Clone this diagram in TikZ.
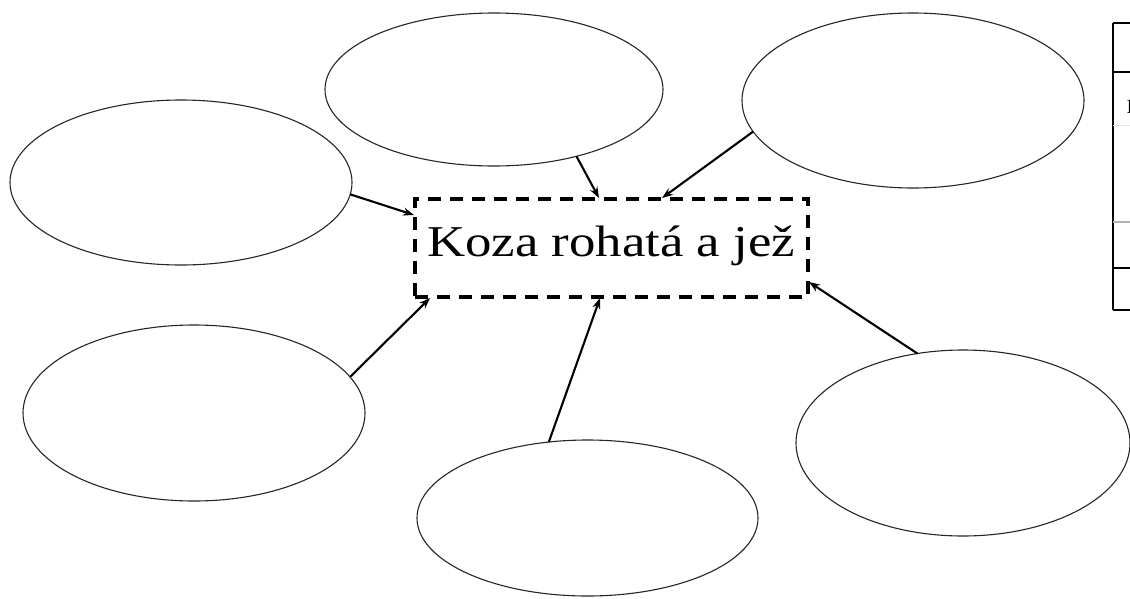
\documentclass[tikz,border=0pt]{standalone}
\usepackage{fontspec}
\setmainfont{Liberation Serif}
\usetikzlibrary{shapes.geometric,arrows.meta}
\begin{document}
\begin{tikzpicture}[x=1pt,y=-1pt,
  bubble/.style={draw=black!85,line width=1.1pt,ellipse,inner sep=0pt,outer sep=0pt},
  titlebox/.style={draw=black,line width=3.8pt,dash pattern=on 13pt off 9pt,inner sep=0pt,outer sep=0pt,minimum width=393pt,minimum height=98pt},
  link/.style={line width=2.1pt,-{Stealth[length=11pt,width=8pt]}},
  tabline/.style={line width=1.8pt,black},
  tabgray/.style={line width=1.2pt,black!30}]
\useasboundingbox (0,0) rectangle (1130,598);
\fill[white] (0,0) rectangle (1130,598);
% bubbles
\node[bubble,minimum width=338pt,minimum height=153pt] (e1) at (494,89.5) {};
\node[bubble,minimum width=342pt,minimum height=175pt] (e2) at (913,100.5) {};
\node[bubble,minimum width=342pt,minimum height=165pt] (e3) at (181,182.5) {};
\node[bubble,minimum width=342pt,minimum height=176pt] (e4) at (194,413) {};
\node[bubble,minimum width=341pt,minimum height=156pt] (e5) at (587.5,518) {};
\node[bubble,minimum width=334pt,minimum height=186pt] (e6) at (963,443) {};
% centre box
\node[titlebox] (box) at (611.5,248) {};
\node[inner sep=0pt] (title) at (611,246) {\scalebox{1.2}[1]{\fontsize{44}{50}\selectfont Koza rohatá a jež}};
% connectors
\draw[link] (e1.-39.6) -- ([xshift=-12.5pt,yshift=1pt]box.north);
\draw[link] (e2.191.6) -- ([xshift=50.5pt,yshift=1pt]box.north);
\draw[link] (e3.-4.9) -- ([yshift=33pt,xshift=-1pt]box.west);
\draw[link] (e4.13.7) -- ([xshift=-181.5pt,yshift=-1pt]box.south);
\draw[link] (e5.117.2) -- ([xshift=-11.5pt,yshift=-1pt]box.south);
\draw[link] (e6.117.1) -- ([yshift=-34pt,xshift=1pt]box.east);
% table fragment at the right edge
\coordinate (t1) at (1113,23);
\coordinate (t2) at (1113,310);
\draw[tabline] (t1) -- (t2);
\draw[tabline] (t1) -- (1132,23);
\draw[tabline] (1113,72) -- (1132,72);
\draw[tabgray] (1113,222) -- (1132,222);
\draw[black!10,line width=0.8pt] (1113,125) -- (1132,125);
\draw[tabline] (1113,268) -- (1132,268);
\draw[tabline] (t2) -- (1132,310);
\node[anchor=base west,inner sep=0pt,font=\fontsize{20}{22}\selectfont] (frag) at (1126.5,113) {I};
\end{tikzpicture}
\end{document}
